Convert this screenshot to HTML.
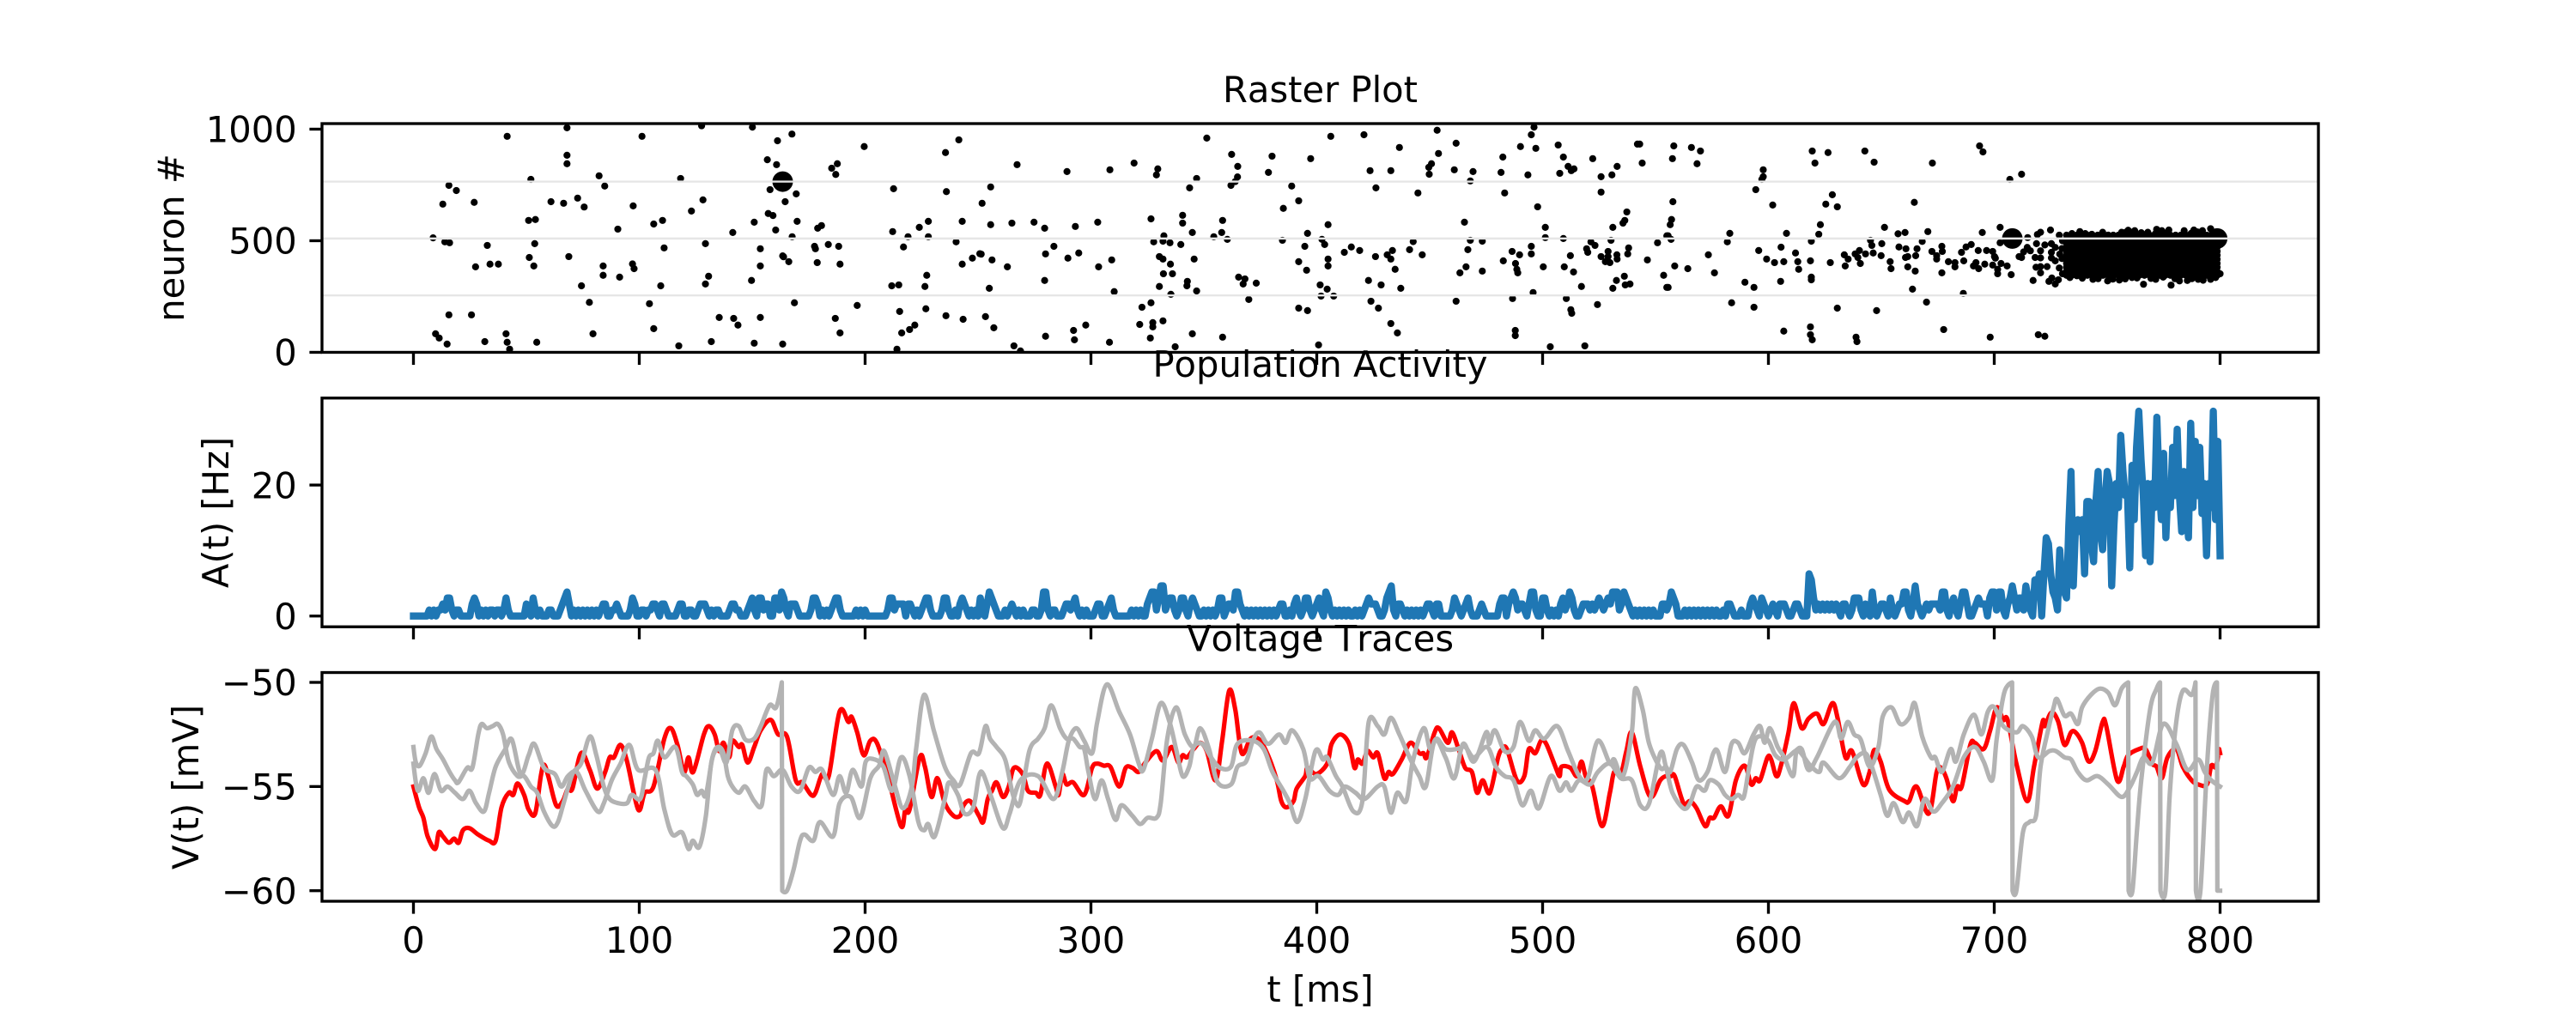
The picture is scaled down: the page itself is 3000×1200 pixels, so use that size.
<!DOCTYPE html>
<html lang="en">
<head>
<meta charset="utf-8">
<title>Raster Plot, Population Activity and Voltage Traces</title>
<style>
html,body{margin:0;padding:0;background:#fff;}
#figure{display:block;width:3000px;height:1200px;font-family:"DejaVu Sans","Liberation Sans",sans-serif;}
#figure text{font-family:"DejaVu Sans","Liberation Sans",sans-serif;font-size:41.67px;fill:#000;font-kerning:none;}
</style>
</head>
<body>
<svg id="figure" xmlns="http://www.w3.org/2000/svg" width="3000" height="1200" viewBox="0 0 3000 1200">
  <defs>
    <clipPath id="clip-raster"><rect x="375" y="144" width="2325" height="266.47"/></clipPath>
    <clipPath id="clip-activity"><rect x="375" y="463.76" width="2325" height="266.47"/></clipPath>
    <clipPath id="clip-voltage"><rect x="375" y="783.53" width="2325" height="266.47"/></clipPath>
  </defs>
  <g id="raster-marks" clip-path="url(#clip-raster)"></g>
  <g id="activity-marks" clip-path="url(#clip-activity)"></g>
  <g id="voltage-marks" clip-path="url(#clip-voltage)"></g>
  <g id="axes-layer"></g>
  <text x="1537.5" y="119" text-anchor="middle">Raster Plot</text>
  <text x="1537.5" y="439" text-anchor="middle">Population Activity</text>
  <text x="1537.5" y="758.5" text-anchor="middle">Voltage Traces</text>
  <text x="214" y="277" text-anchor="middle" transform="rotate(-90 214 277)">neuron #</text>
  <text x="266" y="597" text-anchor="middle" transform="rotate(-90 266 597)">A(t) [Hz]</text>
  <text x="231" y="917" text-anchor="middle" transform="rotate(-90 231 917)">V(t) [mV]</text>
  <text x="1537.5" y="1167" text-anchor="middle">t [ms]</text>
</svg>
<script>
const xTicks = [0,100,200,300,400,500,600,700,800];
const rasterTicks = [0,500,1000];
const activityTicks = [0,20];
const voltageTicks = [-50,-55,-60];
const highlightedNeurons = [255,510,765];
const hzPerCount = 0.92;

const rasterSpikes = [
[41.5,968],[68,1006],[101.2,968],[127.6,1015],[150.1,1009],[161.2,948],[167.6,978],[199.6,922],[235.6,895],[241.5,952],
[68,883],[68,845],[156.7,863],[160.8,841],[185.2,825],[187.7,845],[187,797],[52,775],[82.2,791],[118.3,779],
[15.7,748],[19,725],[84.7,745],[157.9,729],[169.5,710],[212.6,733],[236,720],[13,664],[26.9,672],[60.9,675],
[66.5,668],[72.7,691],[75.6,651],[97.3,656],[128.2,683],[123.1,633],[164.6,675],[157.1,622],[159.2,613],[51,591],
[54,595],[110.3,591],[106.4,575],[150.9,583],[169.9,587],[228,587],[243,587],[224,560],[180.7,568],[179,556],
[90.5,552],[141.4,537],[160.4,548],[212.2,541],[167.7,518],[219,518],[228,518],[8.7,513],[13.9,495],[16,491],
[32.7,479],[53.7,487],[129.3,487],[240.3,495],[177.6,475],[178,464],[183.7,483],[188.3,475],[217,472],[111,468],
[153.6,464],[51.3,425],[68.8,429],[163.5,432],[163.9,428],[166.2,406],[247.5,422],[250.8,442],[178.8,402],[188.9,395],
[243,395],[27.5,383],[33.9,395],[37.6,395],[53.3,387],[84,387],[97,396],[97.7,375],[153.6,387],[84,345],
[91.3,337],[130.7,341],[227.3,345],[74.4,298],[109.5,298],[129.3,306],[149.7,322],[211.8,298],[214.9,302],[226.5,295],
[77.9,224],[104.5,218],[168.7,222],[196.5,210],[226.9,195],[215.3,183],[15.7,168],[25.7,168],[135.4,156],[141.8,152],
[153.6,156],[186.8,152],[235.8,164],[243.4,148],[143.7,122],[106.4,106],[222,122],[219.7,102],[216.2,87],[188.9,87],
[9.8,83],[11.4,64],[41,83],[79.5,83],[31.6,48],[41.5,45],[54.6,45],[14.9,37],[42.6,14],[117.5,29],
[131.9,48],[150.9,41],[163.5,37],[214.1,14],
[267.3,841],[289.4,810],[308.4,818],[319.1,848],[329.6,822],[329,795],[351.3,960],[362.3,887],[365,833],[364.9,786],
[363.9,765],[362,748],[346.8,779],[343.7,737],[380.2,879],[378.6,806],[397.3,868],[406.2,968],[420.9,975],[436.6,918],
[453.3,995],[461.7,937],[453.9,891],[450.8,845],[449.6,829],[449.8,798],[423.6,814],[432.8,814],[460.9,818],[469.2,810],
[468,768],[482.4,875],[481.6,806],[493.5,795],[490.2,922],[495,975],[496.2,1009],[497,914],[506.9,929],[509.2,875],
[507.6,802],[511.3,833],[512.7,814],[513.9,822],[522.2,868],[525.9,787],[530.7,795],[533,833],[542,933],[543,933],
[544.1,848],[388.9,745],[392,679],[385.2,645],[426.2,737],[444.8,714],[483.2,714],[525.9,718],[497.8,652],[537.3,629],
[536.4,591],[535.6,579],[531.1,560],[255.6,741],[251.8,668],[255.6,572],[265,579],[274.8,583],[279.5,556],[293.1,564],
[303,583],[326.6,598],[340.6,614],[340.6,579],[358.3,591],[405,572],[465.4,583],[501.2,560],[332.3,522],[327.8,495],
[331.9,498],[335,491],[339.8,483],[344.9,537],[354.4,518],[357.9,537],[360.4,506],[384.8,502],[395.9,533],[402.3,506],
[403.5,483],[394.7,475],[442.7,496],[468,502],[473.3,498],[501.2,514],[509.2,510],[530.3,502],[521.4,495],[523.2,479],
[495,475],[550.9,491],[555,522],[283.6,475],[251.4,440],[256.2,414],[263,383],[279.9,441],[289.8,422],[294.6,445],
[303.4,383],[309.2,414],[330.3,429],[331.9,418],[335.2,395],[345.7,418],[392,406],[395.5,368],[405,418],[405,387],
[412.2,448],[415.3,472],[419,456],[426,429],[431.2,437],[433.5,456],[432.8,418],[434.7,372],[441.1,460],[446.7,437],
[466.9,460],[466.1,383],[463.4,356],[473.3,364],[482.6,410],[486.5,452],[489.8,437],[495,441],[488,398],[488.6,372],
[489,356],[500.3,383],[509.6,383],[512.3,433],[513.7,360],[519.5,464],[520,448],[525.9,429],[529,452],[529,429],
[527.8,406],[529.8,402],[532.9,437],[533,418],[538.1,468],[537.7,441],[546.4,414],[332.1,352],[336.1,352],[279.5,322],
[255,287],[310.3,272],[330.3,295],[335.4,260],[342.7,318],[342.5,298],[346.8,275],[365.4,337],[368.2,329],[367.4,306],
[373.2,310],[401.5,302],[404.6,283],[401.9,252],[407.5,252],[422.9,322],[428.5,302],[437.2,287],[495.8,268],[517.2,295],
[531.1,287],[532.7,322],[536.2,341],[536.6,302],[538.7,306],[553.6,345],[555,291],[326.6,222],[322.6,202],[369.9,237],
[392,198],[395.9,187],[424,229],[427.3,198],[461.7,229],[486.7,241],[510.5,241],[524.3,214],[512.5,191],[512.9,175],
[253.3,160],[257,110],[265.9,29],[268.8,6],[279.9,72],[292.3,98],[292.7,56],[297.7,122],[308.2,45],[321.6,125],
[327.4,133],[327.4,114],[331.9,141],[326.3,64],[337.3,25],[344.9,83],[358.3,68],[400.8,33],[432.8,129],[435.7,87],
[487.9,98],[487.9,75],[503.4,25],[518.7,29],
[558.1,925],[565.9,918],[569.9,902],[557.5,868],[568.4,845],[619.4,902],[626.4,895],[620.6,848],[642.7,902],[646.8,852],
[672.6,848],[693.5,925],[695,898],[712.1,798],[706.9,775],[597.7,818],[597.7,787],[597.1,775],[594.4,729],[628.3,706],
[557.7,675],[625.4,664],[630.5,652],[601.9,660],[664.6,672],[557.1,595],[556.5,572],[623,572],[582.9,533],[608,533],
[622.3,529],[581.8,495],[619,498],[645.2,502],[645.8,479],[651.4,560],[657.4,531],[660.5,537],[670.6,541],[668.1,497],
[650.2,487],[694.7,537],[702.6,560],[702.6,491],[714.8,514],[556.9,506],[595.7,456],[605.6,471],[612,445],[573.4,437],
[599.2,418],[602.7,402],[606.8,406],[613,406],[613.4,372],[618.6,410],[627.4,402],[558.5,387],[564.3,375],[576.1,356],
[633.6,437],[635.3,418],[634,387],[638.4,441],[640.3,456],[639.6,425],[640.7,398],[643,441],[646.4,445],[649.9,433],
[653.9,406],[654.3,375],[657.8,472],[660.9,464],[660.7,425],[661.7,429],[661.7,383],[665.8,464],[665.2,433],[665,364],
[672.4,452],[674.5,433],[674.5,418],[676.8,475],[677,452],[679.7,406],[682.6,402],[682.6,383],[676.8,356],[685.5,448],
[687.5,472],[689.8,483],[692.9,456],[696.6,456],[699.3,452],[686.5,410],[691.9,402],[690.8,387],[693.1,375],[695.8,395],
[700.1,429],[700.5,422],[699.3,391],[703,398],[701.5,372],[701.5,352],[705.7,387],[707.5,348],[711,429],[712.1,425],
[714.8,464],[718.7,487],[720.5,538],[719.1,528],[724.9,548],[589.6,314],[593.6,291],[605.4,318],[619,337],[619,325],
[663.8,283],[686.3,264],[583.7,222],[593.6,202],[630.5,198],[647.9,187],[670,225],[606.8,95],[618.6,114],[618.6,79],
[619.4,56],[638.8,68],[639.2,48],[677.6,102],[698.2,68],[719.5,79],[722.4,72],[555.6,291],[555.6,522],
[717.2,322],[724.2,318],[725.5,333],[727,306],[728.4,325],[720.5,356],[718.5,381],[720.5,384],[718.1,425],[720.5,423],
[714.6,470],[716,455],[713,450],[720.5,455],[722.4,481],[725.3,487],[725.3,448],[723.4,384],[725.3,423],[728.8,378],
[730.2,352],[728.8,525],[730.2,500],[727,470],[729,440],[727,410],[730,420],[730,465],
[734.4,532],[737.9,541],[740.3,532],[743.2,529],[748,538],[750.5,525],[756.4,538],[759.3,547],[762.2,545],[765.1,536],
[768,538],[771.9,551],[774.2,545],[777.3,548],[784.1,545],[788.4,548],[792.2,545],[795.8,554],
[736.6,343],[743.7,327],[750.2,320],[755.4,324],[763.2,333],[766.1,305],[769.4,331],[774.8,337],[778.3,301],[782,320],
[790.3,327],[795.8,327],[800,352],
[733.5,335],[739,332],[746,330],[752.5,328],[758,329],[761,335],[771.5,327],[780,330],[785.5,322],[787.5,330],[792.5,323],[798,335]
];
const denseTimes = [732,734.3,736.6,738.9,741.2,743.5,745.8,748.1,750.4,752.7,755,757.3,759.6,761.9,764.2,766.5,768.8,771.1,773.4,775.7,778,780.3,782.6,784.9,787.2,789.5,791.8,794.1,796.4,798.7];
const denseNeurons = [345,363,381,399,417,435,453,471,489,507,525];
const highlightedSpikes = [[163.5,765],[708,510],[759.4,510],[773.5,510],[789.2,510],[798.7,510]];

const activityCounts = [
0,0,0,0,0,0,0,1,0,1, 0,1,1,2,1,3,3,1,0,1, 1,0,0,0,0,0,2,3,2,0, 1,0,1,0,1,1,0,1,1,0, 1,3,1,0,0,0,0,0,0,0,
2,1,0,3,1,0,1,0,0,0, 1,1,0,0,0,1,2,3,4,2, 0,1,0,1,0,1,0,1,0,1, 0,1,0,1,2,2,0,0,1,1, 2,1,0,0,0,0,1,3,2,0,
0,1,1,0,1,1,2,2,1,0, 2,2,1,0,0,0,0,1,2,2, 0,0,1,1,0,0,1,2,2,2, 1,0,1,0,1,1,0,0,0,0, 1,2,2,1,1,0,0,0,1,2,
3,1,0,3,3,1,2,2,0,0, 3,3,1,4,3,1,0,2,2,2, 1,0,0,0,0,0,1,3,3,2, 0,1,0,1,0,1,2,3,3,1, 0,0,0,0,0,0,1,0,1,0,
1,0,0,0,0,0,0,0,0,0, 1,3,3,1,2,2,2,2,0,2, 2,1,0,1,0,1,2,3,3,1, 0,0,0,0,1,3,3,1,0,0, 1,0,2,3,2,1,0,1,0,1,
0,3,1,0,2,4,3,2,1,0, 0,0,1,0,1,2,1,0,1,0, 1,0,0,0,1,1,0,0,1,4, 4,1,0,1,1,0,0,0,1,2, 2,1,2,3,1,0,1,0,1,0,
0,0,1,2,2,0,0,1,2,3, 1,0,0,0,0,0,0,0,1,0, 1,0,1,0,0,2,3,4,4,1, 3,5,5,1,2,3,3,1,0,1, 3,3,1,0,2,3,2,1,0,0,
1,0,1,0,1,0,1,3,3,0, 1,2,2,1,4,4,2,1,0,1, 0,1,0,1,0,1,0,1,0,1, 0,1,0,1,2,2,0,0,1,0, 2,3,1,0,1,3,3,1,0,1,
2,3,1,0,4,3,1,0,1,0, 1,0,1,0,1,0,0,1,0,1, 0,1,2,3,2,2,2,1,0,0, 1,3,4,5,1,0,2,2,1,0, 1,0,1,0,1,0,1,0,1,2,
2,1,0,2,2,0,0,0,0,0, 1,3,2,1,0,1,2,3,1,0, 0,0,1,2,1,0,0,0,0,0, 0,2,3,3,0,2,3,4,3,1, 2,2,1,0,2,4,4,1,0,0,
3,3,1,0,1,0,1,0,2,3, 1,2,4,3,1,0,0,1,2,2, 2,1,2,1,2,3,2,1,2,3, 2,4,4,4,1,2,4,3,2,1, 0,1,0,1,0,1,0,1,0,1,
0,0,0,2,2,1,2,4,3,2, 0,0,0,1,0,1,0,1,0,1, 0,1,0,1,0,1,0,1,0,0, 1,0,2,2,1,0,0,0,1,0, 0,0,2,3,2,1,0,3,2,1,
0,1,2,1,0,2,2,2,1,0, 0,1,2,2,1,0,0,0,7,6, 3,1,2,1,2,1,2,1,2,1, 2,1,0,2,2,1,0,1,3,3, 3,1,0,2,1,0,4,1,0,1,
2,2,1,0,3,1,0,1,2,2, 4,4,1,0,2,5,2,1,0,1, 2,1,2,2,2,2,1,4,4,1, 0,2,3,1,0,2,4,4,2,0, 0,1,2,3,2,2,2,0,3,4,
4,1,4,4,1,0,2,3,5,3, 1,3,3,1,5,3,1,0,6,5, 7,0,7,13,12,7,4,3,1,11, 5,4,3,15,24,5,15,16,14,16, 7,19,19,12,9,19,24,14,11,19,
24,22,5,15,22,18,30,24,20,20, 8,25,16,28,34,26,20,10,22,9, 22,18,33,22,16,27,13,22,18,28, 20,31,20,14,24,18,13,32,18,29, 20,28,17,22,10,22,18,34,16,29,
10
];

const redTrace = [
[0,-55],[2.5,-56],[4.4,-56.5],[6.3,-57.4],[9.6,-58],[11.2,-57.2],[13.1,-57.4],[15.7,-57.7],[18,-57.5],[20,-57.7],[21.9,-57.1],[24.8,-57],[28.6,-57.3],[33.5,-57.6],[36.4,-57.6],[39,-56],[42.2,-55.3],[44.2,-55.4],[46.1,-54.85],[49,-55.4],[51,-56.1],[53.9,-56.3],[56.4,-54.5],[57.8,-53.95],[59.7,-54.5],[63.2,-55.9],[66.1,-55.7],[68.4,-55.1],[70.4,-55.1],[74.2,-53.4],[78.1,-54.2],[81.4,-55.1],[84.9,-54.3],[86.9,-53.6],[88.8,-53.6],[91.7,-53],[94.6,-53.8],[99.5,-56.1],[102.4,-55.3],[106.3,-55],[111.1,-52.7],[114,-52.2],[116.9,-53],[119.8,-54.3],[121.8,-53.6],[123.9,-54.3],[128.6,-52.5],[130.9,-52.1],[133.4,-52.5],[135.4,-53.3],[137.3,-52.9],[139.8,-53.6],[141.2,-52.8],[144.1,-53.1],[145.6,-53],[148,-53.85],[150.9,-53.1],[153.8,-52.3],[158.2,-51.8],[161.5,-52.5],[165.4,-52.6],[169.3,-54.7],[172.2,-54.8],[176.1,-55.4],[178,-55.3],[181,-54.4],[183.9,-54.5],[188.7,-51.4],[192.6,-51.9],[194,-51.65],[196.5,-52.4],[199.4,-53.5],[202.3,-52.8],[205.2,-52.9],[210,-54.5],[215.9,-56.9],[217.8,-56.1],[219.7,-56.1],[224.2,-53.6],[226.5,-54.05],[229.4,-55.5],[232,-54.6],[235.3,-55.8],[239.1,-56.4],[242.1,-56.4],[243.6,-55.9],[246.5,-55.7],[250.4,-56.4],
[252.3,-56.7],[254.3,-55.6],[256.2,-55.2],[258.2,-54.8],[261.1,-55.5],[263.6,-55],[265.9,-54.1],[269.8,-54.4],[272.1,-55.2],[275.6,-55.3],[277.6,-55.4],[280.5,-53.9],[284.4,-55],[285.7,-55.4],[287.3,-54.4],[289.2,-54.9],[292.1,-54.8],[297,-55.4],[300.5,-54.1],[302.8,-53.9],[305.7,-54],[308.6,-54.05],[312.5,-55],[315.4,-54.1],[318.3,-54.1],[321.2,-54.3],[324.1,-53.85],[329,-53.3],[331.9,-53.75],[335.8,-53.1],[338.7,-53.85],[340.6,-53.5],[342.5,-53.6],[345.5,-53.2],[348.4,-52.9],[351.3,-53.3],[355.2,-54.7],[358.1,-52.8],[361.2,-50.4],[363.9,-51.3],[366.8,-53.4],[370.7,-52.7],[374.6,-52.75],[378.4,-53.5],[382.3,-54.7],[384.3,-55.7],[386.6,-56],[389.7,-55.7],[391.1,-55.1],[394.9,-54.5],[395.9,-54.1],[399.8,-54.4],[404.6,-53.9],[406.6,-52.95],[410.4,-52.5],[414.3,-52.95],[416.7,-54.1],[418.2,-53.7],[420.2,-53.9],[422.5,-53.3],[425,-53.6],[427,-53.4],[429.9,-54.6],[431.8,-54.3],[433.7,-54.4],[437.6,-53.7],[441.5,-52.9],[445.4,-53.4],[447.3,-53.4],[448.7,-53.6],[452.2,-52.4],[454.1,-52.2],[458,-52.9],[459.9,-52.4],[462.8,-53.2],[465.7,-54.1],[468.7,-54.3],[471,-55.3],[473.5,-54.7],[476.6,-55.3],[480.3,-53.6],[482.2,-53.2],[484.2,-53.2],[488.6,-54.7],[491.9,-54.5],[493.9,-53.2],[496.8,-53.4],[499.3,-52.8],[501.6,-52.95],[505.5,-54],[507.5,-54.5],[508.4,-54.05],[512.3,-54.1],[515.2,-54.5],[517.2,-53.8],[519.1,-54.5],[522,-55],[526.3,-56.9],[529.8,-55.3],[531.7,-54.3],[534.6,-54.4],[537.1,-53.3],[539.5,-52.4],[543.3,-54.05],[547.8,-55.5],[552.1,-54.7],[554.6,-54.5],
[556.9,-54.5],[558.5,-54.5],[562.4,-55.8],[565.3,-55.7],[568.2,-56.05],[572,-56.9],[574,-56.5],[575.9,-56.5],[578.9,-55.95],[582.3,-56.4],[585.6,-54.7],[589.5,-54],[592.4,-54.9],[594.4,-54.6],[596.3,-54.7],[599.6,-53.6],[601.2,-53.7],[603.5,-54.5],[605.4,-54.05],[608.9,-52.4],[611.2,-51],[614.7,-52.2],[617.7,-51.75],[621.5,-51.5],[624.4,-52],[628.3,-51],[630.6,-51.7],[634.1,-53.6],[637,-53.3],[641.9,-54.9],[644.8,-54.3],[646.8,-53.25],[649.7,-53.8],[653.5,-55.15],[660.3,-55.7],[662.3,-55.7],[665.6,-55],[671,-56.3],[674.5,-54.3],[676.4,-54.1],[678.8,-54.6],[681.7,-55.7],[683.6,-55],[685.6,-55],[689.4,-53],[691.4,-52.9],[695.3,-53.2],[698.2,-52.3],[701.1,-51.2],[704,-51.8],[705.9,-51.8],[709.8,-53.9],[714.6,-55.7],[717.6,-54.05],[721.4,-51.9],[722.4,-52.1],[725.3,-51.45],[728.2,-51.85],[731.1,-53],[734,-52.4],[736,-52.4],[738.9,-52.9],[741.8,-53.8],[744.7,-53.3],[748,-51.9],[749.6,-52.1],[754.4,-54.7],[757.3,-54.05],[759.3,-53.5],[764.1,-53.2],[767,-53.2],[769.9,-53.9],[771.9,-54.05],[774.2,-54.6],[776.7,-53.6],[780.6,-53.2],[783.5,-54.05],[787.4,-54.7],[790.3,-54.9],[794.2,-54.9],[796.1,-54],[798.1,-54.05],[799.6,-53.2],[800,-53.4]
];

const grayTraceNeuron510 = [
[0,-53.1],[1.1,-53.85],[2.8,-54],[5.4,-53.4],[7.9,-52.6],[10.2,-53.2],[13.1,-53.7],[16,-54.3],[18.4,-54.7],[19.9,-54.8],[23.8,-54.1],[26.1,-54.1],[28.7,-52.5],[30.2,-52],[32.5,-52.2],[35.1,-52.1],[37.4,-52],[39.7,-52.5],[42.2,-53.8],[46.1,-54.5],[49,-54.5],[52,-55],[54.8,-55.3],[57.8,-56.2],[61.6,-56.9],[64,-56.7],[66.5,-55.8],[70.4,-54.4],[74.2,-53.9],[78.1,-52.6],[81,-53.5],[84.3,-55],[86.9,-55.6],[90.7,-55.8],[94.6,-55.8],[96.6,-55.4],[100.4,-55.6],[102.4,-54.6],[104.3,-53.6],[106.3,-53.4],[108.2,-52.8],[111.1,-53.6],[116,-53.1],[118.9,-54.3],[120.8,-54.5],[123.7,-54.9],[125.6,-55.4],[127.6,-55.2],[129.5,-55.4],[132.4,-53.6],[134.8,-53.1],[137.3,-53.4],[139.2,-54.5],[141.2,-55],[144.1,-55.3],[147,-55],[150.9,-55.7],[154.2,-55.9],[156.3,-54.2],[159.6,-54.5],[163.5,-54.2],[167.4,-55],[171.2,-55.2],[175.1,-54.1],[178,-54.3],[181,-54.2],[185.8,-55.4],[188.7,-54.5],[191.6,-55.3],[194.5,-54.2],[198.4,-55],[200.3,-53.8],[204.2,-53.7],[208.1,-54.05],[212,-55.2],[215.9,-53.6],[219.7,-54.5],[223.6,-56.7],[226.1,-57.1],[227.9,-56.8],[230.8,-57.4],[235.3,-55.6],[237.2,-54.8],[241.1,-55.4],[244,-56.3],[247.9,-56],[250.4,-54.5],
[252.3,-54.4],[256.2,-55.6],[261.1,-57],[264,-56.3],[268.8,-54.7],[276.6,-54.5],[283.4,-55.6],[287.3,-54.3],[290.2,-52.8],[293.5,-52.2],[297,-52.8],[300.5,-53.4],[302.8,-51.9],[307,-50.1],[312.5,-51.4],[317.3,-52.5],[321.2,-53.9],[323.2,-54.2],[327,-52.7],[330.9,-51],[334.8,-51.9],[337.7,-53.2],[340.6,-54.5],[343.5,-54.05],[345.5,-53.1],[349.3,-52.95],[353.2,-53.6],[357.1,-54.1],[362,-54.05],[364.9,-52.95],[371.7,-52.8],[376.5,-53.2],[380.4,-54.3],[385.2,-55.2],[388.1,-55.8],[391.4,-56.7],[394.9,-55.6],[399.4,-53.3],[402.7,-53.7],[404.6,-53.6],[408.5,-54.5],[411.4,-55],[416.3,-56.2],[420.2,-55.7],[423,-51.9],[427,-52.1],[429.9,-52.5],[432.8,-51.7],[436.6,-52.5],[441.5,-53.7],[445.4,-54.5],[448.3,-55],[452.2,-52.8],[457,-53.6],[460.9,-54.6],[464.8,-52.95],[469.6,-53.8],[475,-52.4],[476.4,-52.95],[478.9,-52.3],[483.2,-53.3],[487.1,-53.1],[490,-51.9],[493.9,-52.8],[496.8,-52.3],[500.7,-52.7],[506.5,-52.1],[511.3,-53.3],[516.2,-54.5],[520,-54.6],[524.5,-52.8],[529.8,-53.9],[531.7,-53.7],[535.6,-54.5],[539.5,-52.4],[541,-50.3],[544.3,-51.3],[547.2,-52.95],[552.1,-54.1],[554.6,-54.05],
[556.5,-54.3],[559.5,-53.2],[562.4,-53],[566.2,-53.85],[569.2,-54.7],[573,-54.3],[575.6,-53.4],[577.5,-53.3],[580.8,-54.3],[583.7,-52.95],[586.6,-52.9],[589.5,-53.4],[593.4,-52.5],[596.3,-52.1],[598.3,-52.9],[600.6,-52.2],[604.1,-53.1],[607,-53.6],[610.9,-54.5],[612.8,-53.3],[618.6,-54],[622.5,-54.3],[624.4,-53.85],[631.2,-54.6],[636.1,-54.05],[639,-53.6],[642.9,-53.4],[645.8,-54.05],[649.7,-55.4],[652.6,-56.4],[655.5,-55.8],[659.4,-56.7],[662.3,-56.25],[665.8,-56.9],[669.1,-55.6],[673,-56.2],[676.8,-55.8],[681.7,-55],[686.5,-53.6],[691.4,-53.1],[695.3,-53.8],[699.1,-54.7],[701.1,-52.7],[704.4,-50.5],[707.9,-50],[708.1,-60],[709.8,-60],[712.7,-57.2],[715.6,-56.7],[718.5,-56.4],[720.5,-54.05],[723.4,-52.5],[726.3,-51.2],[727.8,-50.8],[731.1,-51.6],[734,-51.5],[737,-52],[738.9,-51.2],[742.8,-50.6],[746.7,-50.3],[750.5,-50.5],[753.5,-51.1],[756.4,-50.3],[759.3,-50],[759.5,-60],[761.2,-60],[763.2,-57.1],[765.1,-54.7],[769,-51.3],[771.9,-50.3],[773.4,-50],[773.6,-60],[775.8,-60],[777.7,-55.4],[780.6,-51.9],[783.5,-50.4],[787.4,-50.6],[789.1,-50],[789.3,-60],[791.3,-60],[794.2,-54.05],[796.7,-50.6],[798.6,-50],[798.8,-60],[800,-60]
];

const grayTraceNeuron765 = [
[0,-53.9],[1.9,-55.2],[4.4,-54.6],[6.7,-55.3],[9.3,-54.4],[12.2,-55.2],[15.1,-55],[18.4,-55.3],[21.9,-55.6],[24.8,-55.2],[27.7,-55.8],[31.2,-56.2],[33.5,-55.3],[36.4,-54.05],[40.7,-53.2],[43.6,-52.75],[47.5,-54.4],[51,-53.5],[53.5,-52.95],[57.8,-54.1],[62.6,-54.4],[65.5,-55],[68.4,-54.5],[72.3,-54.3],[76.2,-55.2],[81.6,-56.2],[84.3,-55.8],[87.8,-54.7],[91.7,-53.9],[95.6,-53],[99.5,-54.2],[107.2,-54.2],[111.1,-56.1],[114.6,-57.3],[118.9,-57.2],[121.8,-58],[123.7,-57.6],[126.6,-57.9],[129.5,-56.4],[132,-53.8],[135.4,-53.2],[138.6,-53.85],[141.2,-52.3],[144.1,-52.1],[147,-52.75],[150.9,-52.7],[153.8,-52.1],[157.7,-51.1],[160.6,-51.2],[163.1,-50],[163.3,-60],[165.4,-60],[168.3,-59],[171.2,-57.6],[173.2,-57.3],[177.1,-57.6],[180,-56.7],[185.8,-57.4],[188.7,-55.8],[193.6,-55.5],[197.8,-56.5],[202.3,-54.6],[206.2,-54],[208.5,-53.3],[213,-54.9],[216.8,-56.05],[220.7,-55],[222.7,-53.1],[226.1,-50.6],[230.4,-52.3],[235.3,-54.05],[239.1,-54.7],[242.1,-54.9],[246.9,-53.4],[250.4,-53.4],
[253.3,-52.1],[255.3,-52.7],[258.2,-53.1],[262,-53.7],[265,-55.2],[266.9,-55.8],[268.8,-55.7],[272.7,-53.3],[276.6,-52.7],[279.5,-52.2],[282.4,-51.1],[286.3,-52.2],[289.2,-52.7],[292.1,-52.7],[295,-53.1],[297,-53.2],[298.9,-54.3],[301.8,-55.6],[304.7,-54.7],[307.6,-55.6],[310.9,-56.6],[313.5,-55.9],[318.3,-56.4],[321.8,-56.8],[325.1,-56.5],[329,-56.5],[330.9,-55.8],[333.8,-52.7],[337.7,-51.2],[341.6,-52.5],[345.5,-53.1],[348.4,-52.2],[352.3,-53.2],[356.1,-54.8],[362,-54.9],[364.9,-54.05],[368.7,-53.8],[371.7,-52.8],[374.6,-52.4],[378.4,-52.95],[383.3,-52.5],[386.2,-52.9],[389.1,-52.3],[394,-53.2],[396.9,-54.6],[400.8,-54.5],[405.6,-55.2],[409.5,-55.4],[412.4,-55],[417.2,-55.3],[421.1,-55.6],[427,-55],[429.9,-55],[432.8,-56.25],[435.7,-55.3],[439.6,-55.7],[442.5,-53.8],[447.3,-52.2],[450.2,-53.2],[453.1,-52.7],[457,-53.2],[461.9,-53.2],[465.7,-53.1],[469.6,-53.6],[475.4,-53.1],[479.3,-54.05],[483.2,-54.5],[487.1,-54.7],[491,-55.9],[494.8,-55.2],[498.3,-56.05],[503.6,-54.5],[507.5,-55.2],[510.4,-54.8],[512.7,-55.2],[516.2,-54.7],[521,-54.9],[524.5,-54.3],[529.8,-53.9],[534.6,-54.6],[539.5,-54.7],[543.3,-55.9],[547.2,-55.8],[552.1,-53.4],[554.6,-54.05],
[557.5,-55.3],[562.4,-56.05],[565.3,-55.8],[568.2,-55],[571.7,-55.2],[574,-54.7],[577.9,-54.9],[580.8,-55.4],[583.7,-55.6],[586.6,-55.4],[589.1,-55.5],[591.5,-54.05],[594.4,-52.7],[599.6,-52.75],[603.1,-53.5],[607,-53.7],[611.8,-53.3],[614.7,-53.2],[617.7,-54.2],[621.5,-53.6],[629.3,-51.9],[632.2,-52.7],[635.1,-51.9],[638,-52.5],[640.9,-52.75],[644.8,-54.05],[648.7,-53.1],[650.6,-51.65],[654.5,-51.2],[658.4,-52],[662.3,-51.7],[664.8,-51],[668.1,-52.6],[672,-53.6],[673.9,-53.6],[676.8,-54.3],[680.7,-53.2],[683,-53.8],[686.5,-52.5],[691,-51.55],[694.3,-52.5],[697.2,-51.4],[700.1,-51.2],[704,-52.1],[709.8,-52.4],[712.7,-52.1],[716.6,-52.6],[719.5,-53.6],[724.4,-53.3],[727.3,-53.3],[731.1,-53.6],[734,-53.7],[737,-54.3],[740.8,-54.7],[745.7,-54.5],[750.5,-54.9],[756.4,-55.5],[760.2,-55],[763.2,-54.3],[766.1,-53.6],[770,-53.85],[774.8,-52],[780.6,-52.95],[785.5,-54.2],[790.3,-53.7],[793.2,-54.3],[796.1,-54.7],[800,-55]
];

const SVG_NS = 'http://www.w3.org/2000/svg';
const axesBox = {left:375, right:2700};
const panels = {
  raster:{top:144, bottom:410.47},
  activity:{top:463.76, bottom:730.24},
  voltage:{top:783.53, bottom:1050}
};
function xScale(t){ return 481.5 + t*2.63; }
function yRaster(n){ return 410.47 - n*0.26; }
function yActivity(a){ return 717.7 - a*7.63; }
function yVoltage(v){ return 1037.7 - (v+60)*24.27; }

const rasterLayer = document.getElementById('raster-marks');
const activityLayer = document.getElementById('activity-marks');
const voltageLayer = document.getElementById('voltage-marks');
const axesLayer = document.getElementById('axes-layer');

function make(tag, attrs){
  const el = document.createElementNS(SVG_NS, tag);
  for (const k in attrs) el.setAttribute(k, attrs[k]);
  return el;
}
function addSpike(t, n, r){
  const el = make('circle', {cx:xScale(t).toFixed(2), cy:yRaster(n).toFixed(2), r:r, fill:'#000'});
  
  
  rasterLayer.appendChild(el);
}
rasterSpikes.forEach(function(s){ addSpike(s[0], s[1], 4.1); });
denseTimes.forEach(function(t){
  denseNeurons.forEach(function(n){ addSpike(t, n, 4.1); });
});
highlightedSpikes.forEach(function(s){ addSpike(s[0], s[1], 12); });
highlightedNeurons.forEach(function(n){
  const el = make('line', {x1:axesBox.left, x2:axesBox.right, y1:yRaster(n), y2:yRaster(n), stroke:'#e6e6e6', 'stroke-width':2.4});
  
  
  rasterLayer.appendChild(el);
});

/* Smooth voltage path through the read points; reset jumps stay straight. */
function tracePathData(pairs){
  const px = pairs.map(function(p){ return xScale(p[0]); });
  const py = pairs.map(function(p){ return yVoltage(p[1]); });
  const last = pairs.length - 1;
  function isJump(i){ return i >= 0 && i < last && pairs[i+1][0] - pairs[i][0] < 0.6; }
  function tangent(i){
    if (i === 0 || i === last || isJump(i) || isJump(i-1)) return [0,0];
    return [(px[i+1]-px[i-1])/6, (py[i+1]-py[i-1])/6];
  }
  let d = 'M' + px[0].toFixed(2) + ' ' + py[0].toFixed(2);
  for (let i = 0; i < last; i++){
    if (isJump(i)){
      d += 'L' + px[i+1].toFixed(2) + ' ' + py[i+1].toFixed(2);
      continue;
    }
    const a = tangent(i), b = tangent(i+1);
    d += 'C' + (px[i]+a[0]).toFixed(2) + ' ' + (py[i]+a[1]).toFixed(2) + ' ' +
         (px[i+1]-b[0]).toFixed(2) + ' ' + (py[i+1]-b[1]).toFixed(2) + ' ' +
         px[i+1].toFixed(2) + ' ' + py[i+1].toFixed(2);
  }
  return d;
}
function traceLine(pairs, color, width){
  return make('path', {d:tracePathData(pairs), fill:'none', stroke:color, 'stroke-width':width, 'stroke-linejoin':'round', 'stroke-linecap':'square'});
}
const activityPoints = activityCounts.map(function(c, t){
  return xScale(t).toFixed(2)+','+yActivity(c*hzPerCount).toFixed(2);
}).join(' ');
const activityLine = make('polyline', {points:activityPoints, fill:'none', stroke:'#1f77b4', 'stroke-width':8.33, 'stroke-linejoin':'round', 'stroke-linecap':'square'});


activityLayer.appendChild(activityLine);

const redLine = traceLine(redTrace, '#ff0000', 5.2);


voltageLayer.appendChild(redLine);
const grayLineA = traceLine(grayTraceNeuron510, '#b3b3b3', 5.2);


voltageLayer.appendChild(grayLineA);
const grayLineB = traceLine(grayTraceNeuron765, '#b3b3b3', 5.2);


voltageLayer.appendChild(grayLineB);

function addFrame(panel){
  const el = make('rect', {x:axesBox.left, y:panel.top, width:axesBox.right-axesBox.left, height:panel.bottom-panel.top, fill:'none', stroke:'#000', 'stroke-width':3.33});
  
  
  axesLayer.appendChild(el);
}
function addYTick(y, label){
  const tick = make('line', {x1:axesBox.left-14.6, x2:axesBox.left, y1:y, y2:y, stroke:'#000', 'stroke-width':3.33});
  
  
  axesLayer.appendChild(tick);
  const text = make('text', {x:axesBox.left-29.2, y:y+15.2, 'text-anchor':'end'});
  
  
  text.textContent = label;
  axesLayer.appendChild(text);
}
function addXTick(panel, t, showLabel){
  const x = xScale(t);
  const tick = make('line', {x1:x, x2:x, y1:panel.bottom, y2:panel.bottom+14.6, stroke:'#000', 'stroke-width':3.33});
  
  
  axesLayer.appendChild(tick);
  if (showLabel){
    const text = make('text', {x:x, y:panel.bottom+60, 'text-anchor':'middle'});
    
    
    text.textContent = String(t);
    axesLayer.appendChild(text);
  }
}
addFrame(panels.raster);
addFrame(panels.activity);
addFrame(panels.voltage);
xTicks.forEach(function(t){
  addXTick(panels.raster, t, false);
  addXTick(panels.activity, t, false);
  addXTick(panels.voltage, t, true);
});
rasterTicks.forEach(function(v){ addYTick(yRaster(v), String(v)); });
activityTicks.forEach(function(v){ addYTick(yActivity(v), String(v)); });
voltageTicks.forEach(function(v){ addYTick(yVoltage(v), '\u2212'+Math.abs(v)); });
</script>
</body>
</html>
